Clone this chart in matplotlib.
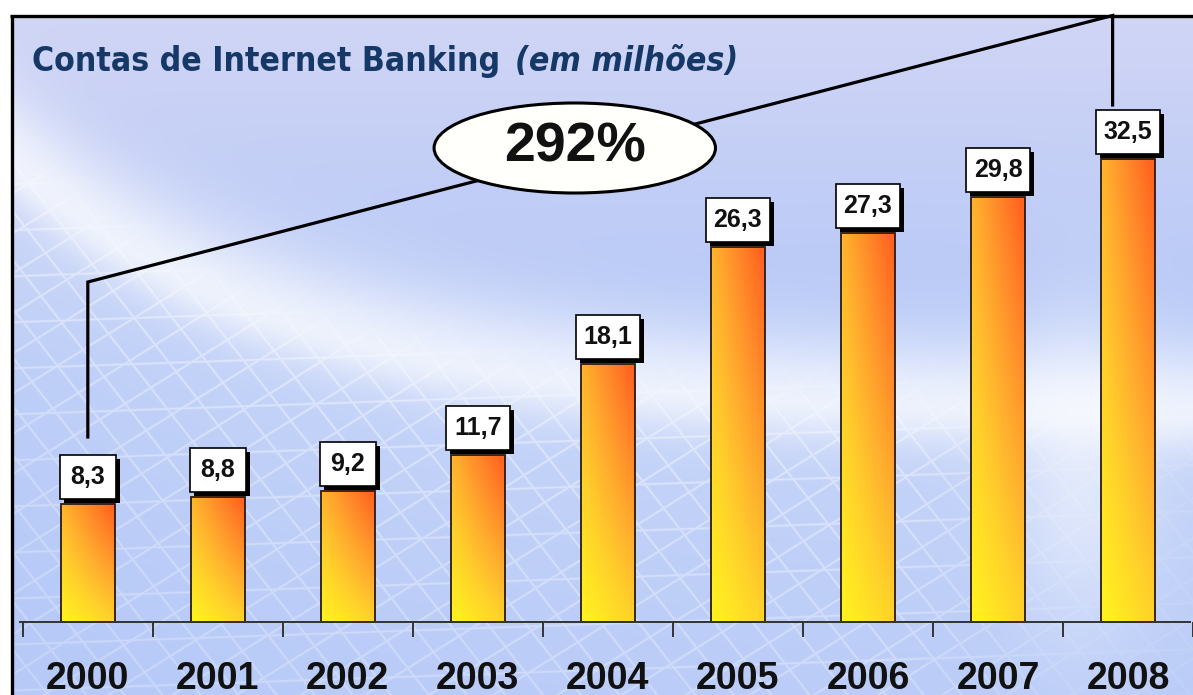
import numpy as np
import matplotlib
matplotlib.use('Agg')
import matplotlib.pyplot as plt
from matplotlib.patches import Rectangle, Ellipse
from matplotlib.colors import LinearSegmentedColormap

# ---------------- data ----------------
years = ['2000', '2001', '2002', '2003', '2004', '2005', '2006', '2007', '2008']
values = [8.3, 8.8, 9.2, 11.7, 18.1, 26.3, 27.3, 29.8, 32.5]
value_labels = ['8,3', '8,8', '9,2', '11,7', '18,1', '26,3', '27,3', '29,8', '32,5']
title_main = 'Contas de Internet Banking'
title_sub = '(em milhões)'
growth_text = '292%'

# ---------------- figure ----------------
W, H = 1193, 695
fig = plt.figure(figsize=(W / 100, H / 100), dpi=100)

# background (decorative) in pixel coordinates
bg = fig.add_axes([0, 0, 1, 1])
bg.set_xlim(0, W)
bg.set_ylim(H, 0)
bg.axis('off')

yy, xx = np.mgrid[0:H, 0:W].astype(float)
c_top = np.array([210, 214, 245]) / 255
c_mid = np.array([178, 198, 247]) / 255
t = np.clip(yy / 360, 0, 1)[..., None]
img = c_top * (1 - t) + c_mid * t
# swoosh curve
yc = 150 + 265 * (1 - np.exp(-xx / 280))
d = yy - yc
glow = np.where(d < 0, np.exp(-(d / 75) ** 2), np.exp(-(d / 40) ** 2))
below = 1 / (1 + np.exp(-d / 18))
fade = np.exp(-np.clip(d, 0, None) / 320)
low_col = np.array([214, 224, 249]) / 255
m = (0.6 * below * fade)[..., None]
img = img * (1 - m) + low_col * m
img = img * (1 - 0.72 * glow[..., None]) + 0.72 * glow[..., None]
# soft bright patch at the right-hand side
blob = np.exp(-(((xx - 1080) / 70) ** 2 + ((yy - 470) / 160) ** 2))
img = img * (1 - 0.5 * blob[..., None]) + 0.5 * blob[..., None]
# perspective-like grid below the swoosh
def fam(angle_deg, sp):
    a = np.deg2rad(angle_deg)
    s = xx * np.cos(a) + yy * np.sin(a)
    fr = np.mod(s, sp)
    dist = np.minimum(fr, sp - fr)
    return np.exp(-(dist / 1.1) ** 2)
grid = np.maximum.reduce([fam(58, 34), fam(-38, 30), fam(88, 46)])
gmask = below * (0.35 + 0.65 * fade) * 0.5
gmask = gmask * np.clip(1 - (xx - 900) / 250, 0.25, 1)
img = img * (1 - (grid * gmask)[..., None]) + (grid * gmask)[..., None]
img = np.clip(img, 0, 1)
img[(xx < 11) | (yy < 16)] = 1.0
bg.imshow(img, extent=(0, W, H, 0), interpolation='bilinear', zorder=0)
bg.plot([11.5, 11.5], [H, 15.5], color='black', lw=2.4, solid_capstyle='butt', zorder=1)
bg.plot([10.3, W], [15.5, 15.5], color='black', lw=2.4, solid_capstyle='butt', zorder=1)

# ---------------- main axes ----------------
XS = 130.3      # px per category
YS = 14.25      # px per unit
X0 = 88.0       # px of first category centre
BASE = 73.0     # px of zero line from bottom
ax = fig.add_axes([0, 0, 1, 1])
ax.patch.set_alpha(0)

x = np.arange(len(years))
bars = ax.bar(x, values, width=0.415, facecolor='none', edgecolor='#2b1a10',
              linewidth=1.3, zorder=3)

cmap = LinearSegmentedColormap.from_list(
    'barg', [(0.0, '#fff41f'), (0.25, '#ffd22a'), (0.45, '#ffb42e'),
             (0.72, '#ff8c2a'), (1.0, '#ff6420')])
gu = np.linspace(0, 1, 80)[None, :]
gv = np.linspace(0, 1, 240)[:, None]
tt = np.clip(0.25 * gu + 0.45 * gv + 0.35 * gu * gv, 0, 1)
grad = cmap(tt)
for b in bars:
    bx, bw, bh = b.get_x(), b.get_width(), b.get_height()
    ax.imshow(grad, extent=(bx, bx + bw, 0, bh), origin='lower',
              aspect='auto', interpolation='bilinear', zorder=2)

# value label boxes with shadow
box_h = 44 / YS
gap = 5 / YS
sh_dx, sh_dy = 4 / XS, -4 / YS
for i, (v, lbl) in enumerate(zip(values, value_labels)):
    bw = (56 if len(lbl) <= 3 else 64) / XS
    yb = v + gap
    ax.add_patch(Rectangle((i - bw / 2 + sh_dx, yb + sh_dy), bw, box_h,
                           facecolor='black', edgecolor='black', lw=0, zorder=4))
    ax.add_patch(Rectangle((i - bw / 2, yb), bw, box_h, facecolor='white',
                           edgecolor='black', lw=1.2, zorder=5))
    ax.text(i, yb + box_h / 2, lbl, ha='center', va='center', fontsize=18,
            fontweight='bold', family='Liberation Sans', color='#111111', zorder=6)

# growth bracket
lx = 0.0
rx = (1115 - X0) / XS
ly0, ly1 = (622 - 437) / YS, (622 - 282) / YS
ry0, ry1 = (622 - 105) / YS, (622 - 15.5) / YS
ax.plot([lx, lx, rx, rx], [ly0, ly1, ry1, ry0], color='black', lw=2.3,
        solid_joinstyle='miter', zorder=6)
ecx, ecy = (576 - X0) / XS, (622 - 148) / YS
ax.add_patch(Ellipse((ecx, ecy), 282 / XS, 90 / YS, facecolor='#fffffb',
                     edgecolor='black', lw=2.2, zorder=7))
ax.text(ecx, ecy, growth_text, ha='center', va='center', fontsize=40,
        fontweight='bold', family='Liberation Sans', color='#111111', zorder=8)

# axis
ax.set_xlim(-X0 / XS, (W - X0) / XS)
ax.set_ylim(-BASE / YS, (H - BASE) / YS)
for s in ['left', 'right', 'top']:
    ax.spines[s].set_visible(False)
ax.spines['bottom'].set_position(('data', 0))
ax.spines['bottom'].set_bounds(-0.52, (W - X0) / XS)
ax.spines['bottom'].set_color('#333333')
ax.spines['bottom'].set_linewidth(1.4)
ax.spines['bottom'].set_zorder(3)
ax.set_yticks([])
ax.set_xticks(np.arange(len(years) + 1) - 0.5)
ax.set_xticklabels([''] * (len(years) + 1))
ax.set_xticks(x, minor=True)
ax.set_xticklabels(years, minor=True, fontsize=27, fontweight='bold',
                   family='Liberation Sans', color='#111111')
ax.tick_params(axis='x', which='major', length=10.5, width=1.4, color='#333333',
               direction='out')
ax.tick_params(axis='x', which='minor', length=0, pad=28)

# title (narrow face if available; size fitted to the reference width)
tfam = ['Liberation Sans Narrow', 'DejaVu Sans']
tm = fig.text(32 / W, 1 - 71 / H, title_main, fontsize=30, family=tfam,
              stretch='condensed', fontweight='bold',
              color='#163866', ha='left', va='baseline')
renderer = fig.canvas.get_renderer()
wpx = tm.get_window_extent(renderer).width
fs = 30 * 468 / wpx
tm.set_fontsize(fs)
ax.annotate(title_sub, xy=(1, 0), xycoords=tm, xytext=(fs * 0.45, 0),
            textcoords='offset points', ha='left', va='bottom', fontsize=fs,
            style='italic', family=tfam, stretch='condensed', fontweight='bold',
            color='#163866', annotation_clip=False)

fig.savefig('out.png', dpi=100)
